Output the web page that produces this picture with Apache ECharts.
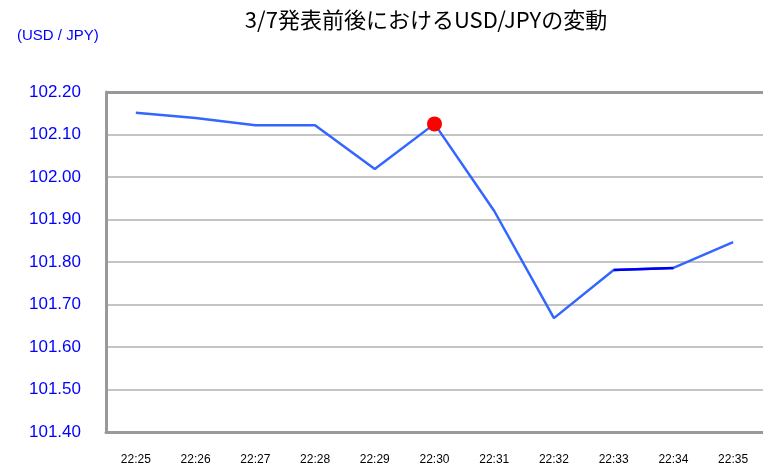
<!DOCTYPE html>
<html>
<head>
<meta charset="utf-8">
<script src="https://cdn.jsdelivr.net/npm/echarts@6/dist/echarts.min.js"></script>
<style>
  html, body { margin: 0; padding: 0; background: #fff; }
  #main { width: 763px; height: 467px; }
</style>
</head>
<body>
<div id="main"></div>
<script>
// 時刻ラベル
var times = ['22:25', '22:26', '22:27', '22:28', '22:29', '22:30', '22:31', '22:32', '22:33', '22:34', '22:35'];
// USD/JPY レート
var rates = [102.151, 102.139, 102.122, 102.122, 102.019, 102.125, 101.920, 101.668, 101.781, 101.786, 101.847];
// 目盛り
var yTicks = [101.40, 101.50, 101.60, 101.70, 101.80, 101.90, 102.00, 102.10, 102.20];
var markIndex = 5; // 発表時刻
var darkFrom = 8, darkTo = 9; // 濃い青の区間

var chart = echarts.init(document.getElementById('main'));

var mainData = rates.map(function (v, i) {
  if (i == markIndex) {
    return { value: v, symbol: 'circle', symbolSize: 15, itemStyle: { color: '#ff0000' } };
  }
  return v;
});
var darkData = rates.map(function (v, i) {
  return (i >= darkFrom && i <= darkTo) ? v : null;
});

var option = {
  animation: false,
  title: [{
    text: '3/7発表前後におけるUSD/JPYの変動',
    left: 421, top: 4, textAlign: 'center',
    textStyle: { fontSize: 22, fontWeight: 'normal', color: '#000', fontFamily: 'Noto Sans CJK JP' }
  }, {
    text: '(USD / JPY)',
    left: 12, top: 23,
    textStyle: { fontSize: 15, fontWeight: 'normal', color: '#0000ff', fontFamily: 'Liberation Sans' }
  }],
  grid: { left: 106, right: 0, top: 92, bottom: 35, containLabel: false },
  xAxis: {
    type: 'category',
    data: times,
    boundaryGap: true,
    axisLine: { lineStyle: { color: '#999', width: 3 } },
    axisTick: { show: false },
    axisLabel: { margin: 22, fontSize: 12, color: '#000', fontFamily: 'Liberation Sans' }
  },
  yAxis: {
    type: 'value',
    min: yTicks[0],
    max: yTicks[yTicks.length - 1],
    interval: 0.1,
    axisLine: { show: true, lineStyle: { color: '#999', width: 3 } },
    axisTick: { show: false },
    splitLine: { lineStyle: { color: '#c4c4c4', width: 2 } },
    axisLabel: {
      margin: 25, fontSize: 17, color: '#0000ff', fontFamily: 'Liberation Sans',
      formatter: function (v) { return v.toFixed(2); }
    }
  },
  series: [{
    type: 'line',
    data: mainData,
    symbol: 'none',
    lineStyle: { color: '#3366ff', width: 2.5 },
    z: 2
  }, {
    type: 'line',
    data: darkData,
    symbol: 'none',
    connectNulls: false,
    lineStyle: { color: '#0000ee', width: 2.5 },
    z: 3
  }, {
    // 上辺の枠線
    type: 'line',
    data: [],
    markLine: {
      silent: true, symbol: 'none', label: { show: false },
      lineStyle: { color: '#999', width: 3, type: 'solid' },
      data: [{ yAxis: yTicks[yTicks.length - 1] }]
    }
  }]
};

chart.setOption(option);
</script>
</body>
</html>
